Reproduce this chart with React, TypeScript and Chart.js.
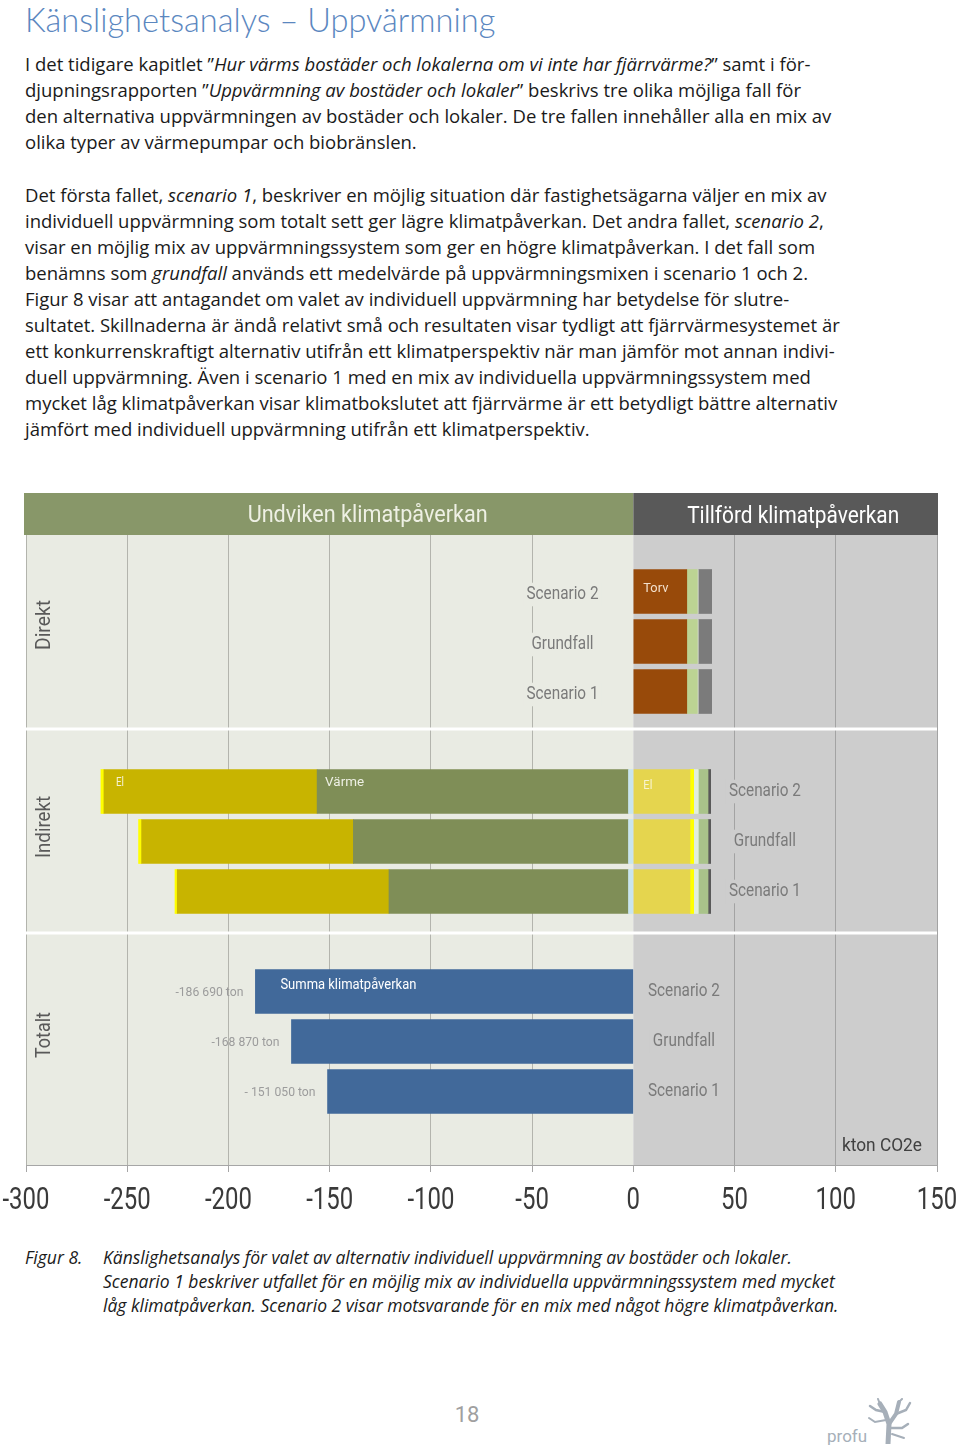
import React, { useEffect, useRef } from 'react';
import { Chart, registerables } from 'chart.js';

Chart.register(...registerables);

// ---------- data (kton CO2e) ----------
const xTicks = [-300, -250, -200, -150, -100, -50, 0, 50, 100, 150];
const scenarios = ['Scenario 2', 'Grundfall', 'Scenario 1'];
const panelNames = ['Direkt', 'Indirekt', 'Totalt'];

// Direkt, tillförd (positive side)
const direktTorv = [26.4, 26.4, 26.4];
const direktBio = [5.2, 5.2, 5.2];
const direktOvrigt = [0.5, 0.5, 0.5];
const direktOlja = [6.6, 6.6, 6.6];

// Indirekt, undviken (negative side, listed from 0 outward)
const indirektOvrigtUndv = [-2.4, -2.4, -2.4];
const indirektVarmeUndv = [-153.8, -135.9, -118.3];
const indirektElUndv = [-105.3, -104.6, -104.6];
const indirektGulUndv = [-1.5, -1.5, -1.1];

// Indirekt, tillförd (positive side)
const indirektElTillf = [28.0, 28.0, 28.0];
const indirektGulTillf = [1.8, 1.8, 1.8];
const indirektLjusTillf = [2.3, 2.3, 2.3];
const indirektGronTillf = [4.8, 4.8, 4.8];
const indirektMorkTillf = [1.3, 1.3, 1.3];

// Totalt
const totaltSumma = [-186.69, -168.87, -151.05];
const totaltLabels = ['-186 690 ton', '-168 870 ton', '- 151 050 ton'];

// ---------- layout helpers ----------
const panelFirstRow = [1, 5, 9];
const yMin = -0.13;
const yMax = 12.47;
const panelBreaks = [3.75, 7.83];
const panelLabelRow = [1.67, 5.71, 9.87];
const panelLabelWidth = [50, 62, 46];
const scenarioLabelX = [-35, 65, 25];
const scenarioLabelDy = [3, 0, 0];

const CF = "Roboto, 'Open Sans', sans-serif";

type Seg = { name: string; values: number[]; color: string };

function buildStack(panel: number, segs: Seg[]) {
  const cum = [0, 0, 0];
  return segs.map((s) => {
    const data = s.values.map((v, i) => {
      const start = cum[i];
      const end = start + v;
      cum[i] = end;
      return { x: [start, end], y: panelFirstRow[panel] + i };
    });
    return {
      label: s.name,
      data,
      backgroundColor: s.color,
      borderWidth: 0,
      barThickness: 44,
      grouped: false,
    };
  });
}

const datasets = [
  ...buildStack(0, [
    { name: 'Torv', values: direktTorv, color: '#984a0a' },
    { name: 'Biobränsle', values: direktBio, color: '#bcd393' },
    { name: 'Övrigt', values: direktOvrigt, color: '#d4d9cc' },
    { name: 'Olja', values: direktOlja, color: '#7b7b7b' },
  ]),
  ...buildStack(1, [
    { name: 'Övrigt undviken', values: indirektOvrigtUndv, color: '#c9e5ee' },
    { name: 'Värme', values: indirektVarmeUndv, color: '#7f8e57' },
    { name: 'El', values: indirektElUndv, color: '#c8b400' },
    { name: 'El gul', values: indirektGulUndv, color: '#ffff00' },
  ]),
  ...buildStack(1, [
    { name: 'El tillförd', values: indirektElTillf, color: '#e5d54e' },
    { name: 'Gul tillförd', values: indirektGulTillf, color: '#ffff00' },
    { name: 'Ljus tillförd', values: indirektLjusTillf, color: '#e1eedb' },
    { name: 'Grön tillförd', values: indirektGronTillf, color: '#a9c38a' },
    { name: 'Mörk tillförd', values: indirektMorkTillf, color: '#595959' },
  ]),
  ...buildStack(2, [
    { name: 'Summa klimatpåverkan', values: totaltSumma, color: '#41699a' },
  ]),
];

// draw text squeezed horizontally to a target width (or with a given squeeze factor)
function fitText(
  ctx: CanvasRenderingContext2D,
  text: string,
  x: number,
  y: number,
  size: number,
  color: string,
  opts: { width?: number; sx?: number; align?: CanvasTextAlign; rotate?: number; bg?: string } = {}
) {
  ctx.save();
  ctx.font = `${size}px ${CF}`;
  const w = ctx.measureText(text).width;
  const sx = opts.width ? opts.width / w : opts.sx || 1;
  ctx.translate(x, y);
  if (opts.rotate) ctx.rotate(opts.rotate);
  ctx.scale(sx, 1);
  ctx.textAlign = opts.align || 'left';
  ctx.textBaseline = 'middle';
  if (opts.bg) {
    const left = opts.align === 'center' ? -w / 2 : opts.align === 'right' ? -w : 0;
    ctx.fillStyle = opts.bg;
    ctx.fillRect(left - 3 / sx, -size * 0.62, w + 6 / sx, size * 1.24);
  }
  ctx.fillStyle = color;
  ctx.fillText(text, 0, 0);
  ctx.restore();
  return sx;
}

function squeezeFor(ctx: CanvasRenderingContext2D, text: string, size: number, width: number) {
  ctx.save();
  ctx.font = `${size}px ${CF}`;
  const w = ctx.measureText(text).width;
  ctx.restore();
  return width / w;
}

const BEIGE = '#e9ebe3';
const GREY = '#cdcdcd';

const decor = {
  id: 'decor',
  beforeDraw(chart: any) {
    const { ctx, chartArea: a, scales } = chart;
    const x = scales.x;
    const x0 = x.getPixelForValue(0);
    ctx.save();
    ctx.fillStyle = BEIGE;
    ctx.fillRect(a.left, a.top, x0 - a.left, a.bottom - a.top);
    ctx.fillStyle = GREY;
    ctx.fillRect(x0, a.top, a.right - x0, a.bottom - a.top);
    // header band
    const hTop = a.top - 42;
    ctx.fillStyle = '#889769';
    ctx.fillRect(a.left - 2, hTop, x0 - a.left + 2, 42);
    ctx.fillStyle = '#595959';
    ctx.fillRect(x0, hTop, a.right + 1 - x0, 42);
    ctx.restore();
    fitText(ctx, 'Undviken klimatpåverkan', (a.left + x0) / 2 + 38, hTop + 23, 24, '#eef0e4', { width: 240, align: 'center' });
    fitText(ctx, 'Tillförd klimatpåverkan', (x0 + a.right) / 2 + 8, hTop + 24, 24, '#ffffff', { width: 212, align: 'center' });
  },
  beforeDatasetsDraw(chart: any) {
    const { ctx, chartArea: a, scales } = chart;
    const x = scales.x;
    const y = scales.y;
    const x0 = x.getPixelForValue(0);
    ctx.save();
    ctx.strokeStyle = '#ffffff';
    ctx.lineWidth = 3;
    panelBreaks.forEach((b) => {
      const py = y.getPixelForValue(b);
      ctx.beginPath();
      ctx.moveTo(a.left, py);
      ctx.lineTo(a.right, py);
      ctx.stroke();
    });
    ctx.restore();
    // panel names (rotated)
    panelNames.forEach((n, p) => {
      fitText(ctx, n, a.left + 19, y.getPixelForValue(panelLabelRow[p]), 21, '#595959', {
        width: panelLabelWidth[p],
        align: 'center',
        rotate: -Math.PI / 2,
      });
    });
    // scenario labels
    const sxS = squeezeFor(ctx, 'Scenario 2', 19, 72);
    panelNames.forEach((_, p) => {
      const cx = x.getPixelForValue(scenarioLabelX[p]);
      scenarios.forEach((s, i) => {
        const cy = y.getPixelForValue(panelFirstRow[p] + i) + scenarioLabelDy[p];
        fitText(ctx, s, cx, cy, 19, '#7a7a7a', { sx: sxS, align: 'center', bg: cx < x0 ? BEIGE : GREY });
      });
    });
  },
  afterDatasetsDraw(chart: any) {
    const { ctx, chartArea: a, scales } = chart;
    const x = scales.x;
    const y = scales.y;
    const x0 = x.getPixelForValue(0);
    // Direkt: Torv
    fitText(ctx, 'Torv', x0 + 10, y.getPixelForValue(panelFirstRow[0]) - 3, 13, '#f3e0cc', { width: 25 });
    // Indirekt labels
    const r1 = y.getPixelForValue(panelFirstRow[1]) - 9;
    const elStart = indirektOvrigtUndv[0] + indirektVarmeUndv[0] + indirektElUndv[0] + indirektGulUndv[0];
    const varmeStart = indirektOvrigtUndv[0] + indirektVarmeUndv[0];
    fitText(ctx, 'El', x.getPixelForValue(elStart) + 15, r1, 13, '#f6f2d4', { width: 8 });
    fitText(ctx, 'Värme', x.getPixelForValue(varmeStart) + 8, r1, 13, '#eef0e4', { width: 39 });
    fitText(ctx, 'El', x0 + 10, r1 + 3, 13, '#f8f4d0', { width: 9 });
    // Totalt
    fitText(ctx, 'Summa klimatpåverkan', x.getPixelForValue(totaltSumma[0]) + 25, y.getPixelForValue(panelFirstRow[2]) - 6, 14, '#ffffff', { width: 136 });
    const sxV = squeezeFor(ctx, totaltLabels[0], 13, 68);
    totaltSumma.forEach((v, i) => {
      fitText(ctx, totaltLabels[i], x.getPixelForValue(v) - 12, y.getPixelForValue(panelFirstRow[2] + i) + 1, 13, '#9c9c9c', { sx: sxV, align: 'right' });
    });
    // unit
    fitText(ctx, 'kton CO2e', a.right - 15, a.bottom - 19, 19, '#404040', { width: 80, align: 'right' });
  },
  afterDraw(chart: any) {
    const { ctx, chartArea: a, scales } = chart;
    const x = scales.x;
    const sxT = squeezeFor(ctx, String(xTicks[0]), 31, 47);
    xTicks.forEach((v) => {
      fitText(ctx, String(v), x.getPixelForValue(v), a.bottom + 36, 31, '#3a3a3a', { sx: sxT, align: 'center' });
    });
  },
};

function Tree() {
  return (
    <svg width={48} height={46} viewBox="0 0 48 46" style={{ position: 'absolute', left: 866, top: 1398 }}>
      <g stroke="#a6afb9" strokeLinecap="round" fill="none">
        <path d="M22 46 L23 26 L19 14 L14 6" strokeWidth={5} />
        <path d="M23 26 L30 16 L33 4" strokeWidth={4} />
        <path d="M19 14 L10 12 L4 8" strokeWidth={2.5} />
        <path d="M30 16 L40 12 L44 5" strokeWidth={2.5} />
        <path d="M23 30 L36 30 L42 26" strokeWidth={2.5} />
        <path d="M20 22 L9 24 L3 20" strokeWidth={2} />
        <path d="M14 6 L12 1" strokeWidth={2} />
        <path d="M33 4 L36 1" strokeWidth={2} />
        <path d="M26 36 L38 40" strokeWidth={2} />
      </g>
    </svg>
  );
}

const TF = "'Open Sans', Lato, sans-serif";

const p1 = [
  <>I det tidigare kapitlet ”<i>Hur värms bostäder och lokalerna om vi inte har fjärrvärme?</i>” samt i för-</>,
  <>djupningsrapporten ”<i>Uppvärmning av bostäder och lokaler</i>” beskrivs tre olika möjliga fall för</>,
  <>den alternativa uppvärmningen av bostäder och lokaler. De tre fallen innehåller alla en mix av</>,
  <>olika typer av värmepumpar och biobränslen.</>,
];
const p2 = [
  <>Det första fallet, <i>scenario 1</i>, beskriver en möjlig situation där fastighetsägarna väljer en mix av</>,
  <>individuell uppvärmning som totalt sett ger lägre klimatpåverkan. Det andra fallet, <i>scenario 2</i>,</>,
  <>visar en möjlig mix av uppvärmningssystem som ger en högre klimatpåverkan. I det fall som</>,
  <>benämns som <i>grundfall</i> används ett medelvärde på uppvärmningsmixen i scenario 1 och 2.</>,
  <>Figur 8 visar att antagandet om valet av individuell uppvärmning har betydelse för slutre-</>,
  <>sultatet. Skillnaderna är ändå relativt små och resultaten visar tydligt att fjärrvärmesystemet är</>,
  <>ett konkurrenskraftigt alternativ utifrån ett klimatperspektiv när man jämför mot annan indivi-</>,
  <>duell uppvärmning. Även i scenario 1 med en mix av individuella uppvärmningssystem med</>,
  <>mycket låg klimatpåverkan visar klimatbokslutet att fjärrvärme är ett betydligt bättre alternativ</>,
  <>jämfört med individuell uppvärmning utifrån ett klimatperspektiv.</>,
];
const cap = [
  'Känslighetsanalys för valet av alternativ individuell uppvärmning av bostäder och lokaler.',
  'Scenario 1 beskriver utfallet för en möjlig mix av individuella uppvärmningssystem med mycket',
  'låg klimatpåverkan. Scenario 2 visar motsvarande för en mix med något högre klimatpåverkan.',
];

function Lines({ lines, top, left, lh, size, italic }: any) {
  return (
    <div style={{ position: 'absolute', top, left, fontSize: size, lineHeight: `${lh}px`, whiteSpace: 'nowrap', fontStyle: italic ? 'italic' : 'normal', color: '#1a1a1a' }}>
      {lines.map((l: any, i: number) => (
        <div key={i}>{l}</div>
      ))}
    </div>
  );
}

export default function App() {
  const ref = useRef<HTMLCanvasElement>(null);
  useEffect(() => {
    const chart = new Chart(ref.current as HTMLCanvasElement, {
      type: 'bar',
      data: { datasets: datasets as any },
      plugins: [decor],
      options: {
        animation: false,
        responsive: false,
        indexAxis: 'y',
        layout: { padding: { top: 55, left: 26, right: 23, bottom: 0 } },
        plugins: { legend: { display: false }, tooltip: { enabled: false } },
        scales: {
          y: { type: 'linear', display: false, reverse: true, min: yMin, max: yMax, offset: false, grace: 0 },
          x: {
            type: 'linear',
            min: -300,
            max: 150,
            position: 'bottom',
            afterBuildTicks: (s: any) => {
              s.ticks = xTicks.map((v) => ({ value: v }));
            },
            afterFit: (s: any) => {
              s.height = 75;
              s.paddingLeft = 0;
              s.paddingRight = 0;
            },
            grid: {
              color: (c: any) => (c.tick && c.tick.value === 0 ? 'rgba(0,0,0,0)' : c.tick && c.tick.value > 0 ? '#a3a3a3' : '#b3b4ad'),
              tickColor: '#a6a6a6',
              tickLength: 7,
              drawTicks: true,
            },
            border: { display: true, color: '#a6a6a6', width: 1 },
            ticks: { display: false },
          },
        },
      } as any,
    });
    return () => chart.destroy();
  }, []);

  return (
    <div style={{ position: 'absolute', left: 0, top: 0, width: 960, height: 1446, background: '#fff', overflow: 'hidden', fontFamily: TF }}>
      <div style={{ position: 'absolute', left: 25, top: 0, fontSize: 32.6, lineHeight: '40px', color: '#5b87bf', fontWeight: 300, whiteSpace: 'nowrap', fontFamily: 'Lato, sans-serif' }}>
        Känslighetsanalys – Uppvärmning
      </div>
      <Lines lines={p1} top={51} left={25} lh={26} size={18.5} />
      <Lines lines={p2} top={182} left={25} lh={26} size={18.5} />
      <div style={{ position: 'absolute', left: 25, top: 1245, fontSize: 17.5, lineHeight: '24px', fontStyle: 'italic', color: '#1a1a1a' }}>Figur 8.</div>
      <Lines lines={cap} top={1245} left={103} lh={24} size={17.5} italic />
      <canvas ref={ref} width={960} height={760} style={{ position: 'absolute', left: 0, top: 480 }} />
      <div style={{ position: 'absolute', left: 0, width: 934, textAlign: 'center', top: 1402, fontSize: 22, lineHeight: '26px', color: '#a0a0a0', fontFamily: CF }}>18</div>
      <div style={{ position: 'absolute', left: 827, top: 1426, fontSize: 17, lineHeight: '20px', color: '#a6afb9', fontFamily: CF }}>profu</div>
      <Tree />
    </div>
  );
}
